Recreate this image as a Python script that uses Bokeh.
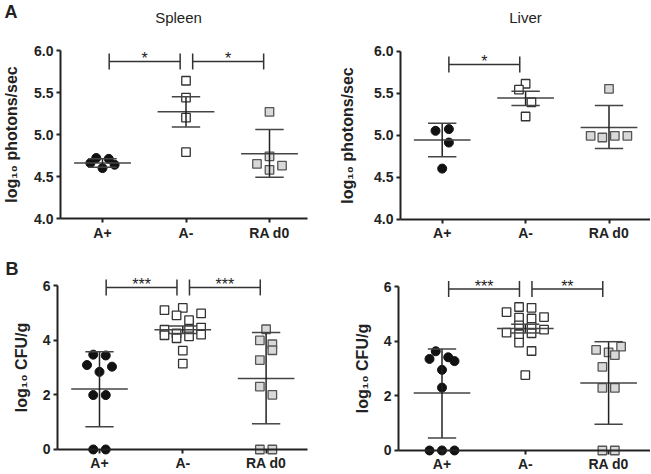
import numpy as np
from bokeh.plotting import figure
from bokeh.layouts import column, row
from bokeh.models import FixedTicker, NumeralTickFormatter, Label, Range1d
from bokeh.core.properties import value
from bokeh.embed import file_html
from bokeh.resources import INLINE

# ---------------- data ----------------
categories = ["A+", "A-", "RA d0"]

# A: log10 photons/sec
spleen_ap = [4.66, 4.72, 4.60, 4.71, 4.64]
spleen_ap_jit = [-0.145, -0.075, 0.0, 0.075, 0.145]
spleen_am = [5.64, 5.44, 5.20, 4.79]
spleen_am_jit = [0.0, 0.0, 0.0, 0.0]
spleen_ra = [5.27, 4.74, 4.65, 4.63, 4.58]
spleen_ra_jit = [0.0, 0.0, -0.15, 0.15, 0.0]
spleen_mean = [4.66, 5.27, 4.77]
spleen_lo = [4.61, 5.09, 4.49]
spleen_hi = [4.71, 5.45, 5.06]

liver_ap = [5.05, 5.07, 4.91, 4.60]
liver_ap_jit = [-0.08, 0.08, 0.08, 0.0]
liver_am = [5.61, 5.54, 5.39, 5.22]
liver_am_jit = [0.0, -0.08, 0.07, 0.0]
liver_ra = [5.55, 4.99, 4.97, 4.99, 4.99]
liver_ra_jit = [0.0, -0.22, -0.08, 0.07, 0.22]
liver_mean = [4.94, 5.44, 5.09]
liver_lo = [4.74, 5.35, 4.84]
liver_hi = [5.14, 5.52, 5.35]

# B: log10 CFU/g
scfu_ap = [3.47, 3.44, 3.09, 3.03, 2.84, 1.99, 1.99, 0, 0]
scfu_ap_jit = [-0.075, 0.075, -0.15, 0.15, 0.0, -0.075, 0.075, -0.075, 0.075]
scfu_am = [5.10, 5.18, 4.91, 4.98, 4.73, 4.38, 4.18, 4.25, 4.07, 4.40, 4.14, 4.46, 4.20, 3.62, 3.14]
scfu_am_jit = [-0.22, 0.0, -0.075, 0.22, 0.075, -0.22, -0.22, -0.075, -0.075, 0.075, 0.075, 0.22, 0.22, 0.0, 0.0]
scfu_ra = [4.40, 3.99, 3.85, 3.63, 3.27, 2.30, 2.00, 0, 0]
scfu_ra_jit = [0.0, -0.075, 0.075, 0.075, -0.075, -0.075, 0.075, -0.075, 0.075]
scfu_mean = [2.21, 4.38, 2.60]
scfu_lo = [0.83, 4.24, 0.94]
scfu_hi = [3.58, 4.52, 4.28]

lcfu_ap = [3.63, 3.35, 3.41, 3.27, 2.95, 2.30, 0, 0, 0]
lcfu_ap_jit = [-0.075, -0.15, 0.075, 0.15, 0.0, 0.0, -0.15, 0.0, 0.15]
lcfu_am = [5.25, 5.22, 5.06, 4.86, 4.83, 4.88, 4.58, 4.52, 4.42, 4.31, 4.25, 4.29, 3.95, 3.64, 2.76]
lcfu_am_jit = [-0.075, 0.075, -0.225, -0.075, 0.075, 0.225, -0.075, 0.075, 0.225, -0.225, -0.075, 0.075, -0.075, 0.075, 0.0]
lcfu_ra = [3.68, 3.80, 3.59, 3.49, 3.06, 2.29, 2.29, 0, 0]
lcfu_ra_jit = [-0.15, 0.15, 0.0, 0.075, -0.075, -0.075, 0.075, -0.075, 0.075]
lcfu_mean = [2.10, 4.46, 2.47]
lcfu_lo = [0.46, 4.30, 0.96]
lcfu_hi = [3.71, 4.62, 3.98]

# significance comparisons: (group i, group j, stars)
spleen_sig = [(1, 2, "*"), (2, 3, "*")]
liver_sig = [(1, 2, "*")]
scfu_sig = [(1, 2, "***"), (2, 3, "***")]
lcfu_sig = [(1, 2, "***"), (2, 3, "**")]

photon_ticks = [4.0, 4.5, 5.0, 5.5, 6.0]
cfu_ticks = [0, 2, 4, 6]

# ---------------- style ----------------
FONT = "Liberation Sans"
INK = "#222222"
LINE = "#444444"
STYLES = [
    dict(marker="circle", size=9, fill_color="#111111", line_color="#111111", line_width=1),
    dict(marker="square", size=8.5, fill_color="#ffffff", line_color="#333333", line_width=1.3),
    dict(marker="square", size=8.5, fill_color="#d9d9d9", line_color="#555555", line_width=1.3),
]


def panel(width, height, px_x, px_y, x0_cat, y_top_val, y_top_px, axis_x_px, axis_right_px,
          ybounds, yticks, yfmt, ylabel, lab_standoff, groups, means, los, his, sig, sig_y):
    """px_x / px_y: pixels per data unit; x0_cat: canvas px of category 1;
    y_top_px: canvas px (from top) of value y_top_val."""
    x_start = 1 - x0_cat / px_x
    x_end = x_start + width / px_x
    y_end = y_top_val + y_top_px / px_y
    y_start = y_end - height / px_y
    x_axis_at = x_start + axis_x_px / px_x
    x_axis_end = min(x_end, x_start + axis_right_px / px_x)

    p = figure(width=width, height=height, x_range=Range1d(x_start, x_end),
               y_range=Range1d(y_start, y_end), output_backend="svg",
               toolbar_location=None, title=None, min_border=0)
    p.outline_line_color = None
    p.xgrid.visible = False
    p.ygrid.visible = False
    p.background_fill_color = "white"
    p.border_fill_color = "white"

    for ax in (p.xaxis[0], p.yaxis[0]):
        ax.axis_line_color = INK
        ax.axis_line_width = 2
        ax.major_tick_line_color = INK
        ax.major_tick_line_width = 2
        ax.major_tick_out = 4
        ax.major_tick_in = 0
        ax.minor_tick_line_color = None
        ax.major_label_text_font = FONT
        ax.major_label_text_font_style = "bold"
        ax.major_label_text_font_size = "14px"
        ax.major_label_text_color = INK

    xa = p.xaxis[0]
    xa.ticker = FixedTicker(ticks=[1, 2, 3])
    xa.major_label_overrides = {1: categories[0], 2: categories[1], 3: categories[2]}
    xa.major_label_standoff = 2
    xa.fixed_location = ybounds[0]
    xa.bounds = (x_axis_at, x_axis_end)

    ya = p.yaxis[0]
    ya.ticker = FixedTicker(ticks=yticks)
    ya.formatter = NumeralTickFormatter(format=yfmt)
    ya.bounds = ybounds
    ya.fixed_location = x_axis_at
    ya.major_label_standoff = 3
    ya.axis_label = ylabel
    ya.axis_label_text_font = FONT
    ya.axis_label_text_font_style = "bold"
    ya.axis_label_text_font_size = "16px"
    ya.axis_label_text_color = INK
    ya.axis_label_standoff = lab_standoff

    # points
    for k, (vals, jit) in enumerate(groups):
        xs = (k + 1) + np.asarray(jit, dtype=float)
        p.scatter(x=xs, y=vals, **STYLES[k])

    # mean and error bars
    cx = np.array([1.0, 2.0, 3.0])
    p.segment(x0=cx - 0.34, x1=cx + 0.34, y0=means, y1=means, line_color=LINE, line_width=1.5)
    p.segment(x0=cx, x1=cx, y0=los, y1=his, line_color="#222222", line_width=1.5)
    p.segment(x0=cx - 0.17, x1=cx + 0.17, y0=los, y1=los, line_color=LINE, line_width=1.5)
    p.segment(x0=cx - 0.17, x1=cx + 0.17, y0=his, y1=his, line_color=LINE, line_width=1.5)

    # significance brackets
    tick = 8.0 / px_y
    for (i, j, stars) in sig:
        xa0, xa1 = i + 0.08, j - 0.07
        p.segment(x0=[xa0, xa0, xa1], x1=[xa1, xa0, xa1],
                  y0=[sig_y, sig_y - tick, sig_y - tick],
                  y1=[sig_y, sig_y + tick, sig_y + tick], line_color="#333333", line_width=1.5)
        p.text(x=[(xa0 + xa1) / 2], y=[sig_y + 2.5 / px_y], text=[stars], text_align="center",
               text_baseline="middle", text_font=value(FONT), text_font_size="16px",
               text_color=INK)
    return p, x_start, y_end


# page has no margin: canvas px == picture px
# top row: y 0..242, bottom row: y 242..473; left column x 0..325, right 325..650
TOP_PPU = 84.0
BOT_PPU = 27.33
p1, x1s, y1e = panel(325, 242, 83.5, TOP_PPU, 102, 6.0, 50, 60, 307,
                     (4.0, 6.0), photon_ticks, "0.0", "log\u2081\u2080 photons/sec", 11,
                     [(spleen_ap, spleen_ap_jit), (spleen_am, spleen_am_jit), (spleen_ra, spleen_ra_jit)],
                     spleen_mean, spleen_lo, spleen_hi, spleen_sig, 5.87)
p2, x2s, y2e = panel(325, 242, 83.4, TOP_PPU, 116.7, 6.0, 50.5, 75, 325,
                     (4.0, 6.0), photon_ticks, "0.0", "log\u2081\u2080 photons/sec", 15,
                     [(liver_ap, liver_ap_jit), (liver_am, liver_am_jit), (liver_ra, liver_ra_jit)],
                     liver_mean, liver_lo, liver_hi, liver_sig, 5.84)
p3, x3s, y3e = panel(325, 231, 83.3, BOT_PPU, 99, 6.0, 43, 57, 307,
                     (0, 6), cfu_ticks, "0", "log\u2081\u2080 CFU/g", 10,
                     [(scfu_ap, scfu_ap_jit), (scfu_am, scfu_am_jit), (scfu_ra, scfu_ra_jit)],
                     scfu_mean, scfu_lo, scfu_hi, scfu_sig, 5.93)
p4, x4s, y4e = panel(325, 231, 83.3, BOT_PPU, 116.5, 6.0, 44, 73, 325,
                     (0, 6), cfu_ticks, "0", "log\u2081\u2080 CFU/g", 10,
                     [(lcfu_ap, lcfu_ap_jit), (lcfu_am, lcfu_am_jit), (lcfu_ra, lcfu_ra_jit)],
                     lcfu_mean, lcfu_lo, lcfu_hi, lcfu_sig, 5.91)

# titles and panel letters (inside the canvas-wide frames)
p1.add_layout(Label(x=x1s + 178 / 83.5, y=y1e - 17 / TOP_PPU, text="Spleen", text_align="center",
                    text_baseline="middle", text_font=FONT, text_font_size="15px",
                    text_color=INK))
p2.add_layout(Label(x=x2s + 200 / 83.4, y=y2e - 17 / TOP_PPU, text="Liver", text_align="center",
                    text_baseline="middle", text_font=FONT, text_font_size="15px",
                    text_color=INK))
p1.add_layout(Label(x=x1s + 4 / 83.5, y=y1e - 1 / TOP_PPU, text="A", text_align="left",
                    text_baseline="top", text_font=FONT, text_font_style="bold",
                    text_font_size="18px", text_color=INK))
p3.add_layout(Label(x=x3s + 5 / 83.3, y=y3e - 16 / BOT_PPU, text="B", text_align="left",
                    text_baseline="top", text_font=FONT, text_font_style="bold",
                    text_font_size="18px", text_color=INK))

layout = column(row(p1, p2), row(p3, p4))
open("out.html", "w").write(file_html(layout, INLINE))
